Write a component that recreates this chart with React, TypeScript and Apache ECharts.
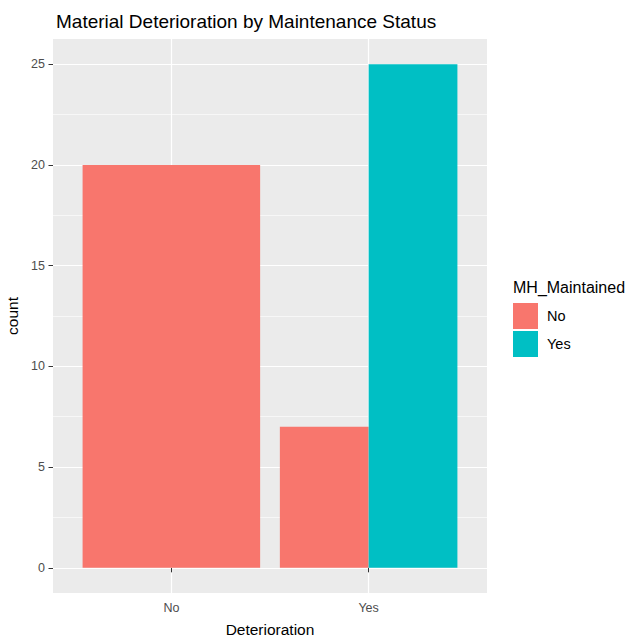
import React, { useEffect, useRef } from "react";
import * as echarts from "echarts";

const categories = ["No", "Yes"];
const groups = ["No", "Yes"];
const countsNo: (number | null)[] = [20, 7];
const countsYes: (number | null)[] = [null, 25];
const groupColors = ["#F8766D", "#00BFC4"];
const majorY = [0, 5, 10, 15, 20, 25];
const minorY = [2.5, 7.5, 12.5, 17.5, 22.5];

const FONT = "Liberation Sans, Arial, sans-serif";

function dodge() {
  const seriesVals = [countsNo, countsYes];
  const out: number[][][] = groups.map(() => []);
  categories.forEach((_, ci) => {
    const present = groups.map((_, gi) => gi).filter((gi) => seriesVals[gi][ci] != null);
    const total = 0.9;
    const w = total / present.length;
    const start = ci + 1 - total / 2;
    present.forEach((gi, k) => {
      out[gi].push([start + k * w, start + (k + 1) * w, seriesVals[gi][ci] as number]);
    });
  });
  return out;
}

export default function App() {
  const ref = useRef<HTMLDivElement>(null);
  useEffect(() => {
    if (!ref.current) return;
    const chart = echarts.init(ref.current, null, { renderer: "svg" });
    const dodged = dodge();
    const series: any[] = groups.map((g, gi) => ({
      type: "custom",
      name: g,
      xAxisIndex: 0,
      yAxisIndex: 0,
      itemStyle: { color: groupColors[gi] },
      data: dodged[gi],
      renderItem: (params: any, api: any) => {
        const x0 = api.value(0);
        const x1 = api.value(1);
        const v = api.value(2);
        const p0 = api.coord([x0, v]);
        const p1 = api.coord([x1, 0]);
        return {
          type: "rect",
          shape: { x: p0[0], y: p0[1], width: p1[0] - p0[0], height: p1[1] - p0[1] },
          style: { fill: groupColors[gi] },
        };
      },
    }));
    chart.setOption({
      animation: false,
      backgroundColor: "#ffffff",
      title: {
        text: "Material Deterioration by Maintenance Status",
        left: 51,
        top: 7,
        textStyle: { fontFamily: FONT, fontSize: 19, fontWeight: "normal", color: "#000" },
      },
      grid: {
        left: 53,
        right: 138,
        top: 39,
        bottom: 44,
        show: true,
        backgroundColor: "#EBEBEB",
        borderWidth: 0,
        outerBoundsMode: "none",
        containLabel: false,
      },
      legend: {
        orient: "vertical",
        left: 508,
        top: 298,
        itemWidth: 25,
        itemHeight: 26,
        itemGap: 2,
        icon: "rect",
        data: groups,
        textStyle: { fontFamily: FONT, fontSize: 14.5, color: "#000", padding: [0, 0, 0, 4] },
      },
      graphic: [
        {
          type: "text",
          left: 513,
          top: 279,
          style: { text: "MH_Maintained", font: `16px ${FONT}`, fill: "#000" },
        },
      ],
      xAxis: {
        type: "value",
        min: 0.4,
        max: 2.6,
        name: "Deterioration",
        nameLocation: "middle",
        nameGap: 28,
        nameTextStyle: { fontFamily: FONT, fontSize: 15.5, color: "#000" },
        axisLine: { show: false },
        axisTick: { show: true, length: 4.5, customValues: [1, 2], lineStyle: { color: "#333", width: 1 } },
        axisLabel: {
          customValues: [1, 2],
          formatter: (v: number) => categories[Math.round(v) - 1] ?? "",
          fontFamily: FONT,
          fontSize: 12.5,
          color: "#4D4D4D",
          margin: 8,
        },
        splitLine: { show: true, lineStyle: { color: "#fff", width: 1.2 } },
      },
      yAxis: [
        {
          type: "value",
          min: -1.25,
          max: 26.25,
          name: "count",
          nameLocation: "middle",
          nameGap: 32,
          nameRotate: 90,
          nameTextStyle: { fontFamily: FONT, fontSize: 15.5, color: "#000" },
          axisLine: { show: false },
          axisTick: { show: true, length: 4.5, customValues: majorY, lineStyle: { color: "#333", width: 1 } },
          axisLabel: { customValues: majorY, fontFamily: FONT, fontSize: 12.5, color: "#4D4D4D", margin: 8 },
          splitLine: { show: true, lineStyle: { color: "#fff", width: 1.2 } },
        },
        {
          type: "value",
          min: -1.25,
          max: 26.25,
          position: "left",
          axisLine: { show: false },
          axisTick: { show: false, customValues: minorY },
          axisLabel: { show: false, customValues: minorY },
          splitLine: { show: true, lineStyle: { color: "#fff", width: 0.6 } },
        },
      ],
      series,
    });
    return () => chart.dispose();
  }, []);
  return <div ref={ref} style={{ width: 625, height: 637, position: "absolute", left: 0, top: 0 }} />;
}
